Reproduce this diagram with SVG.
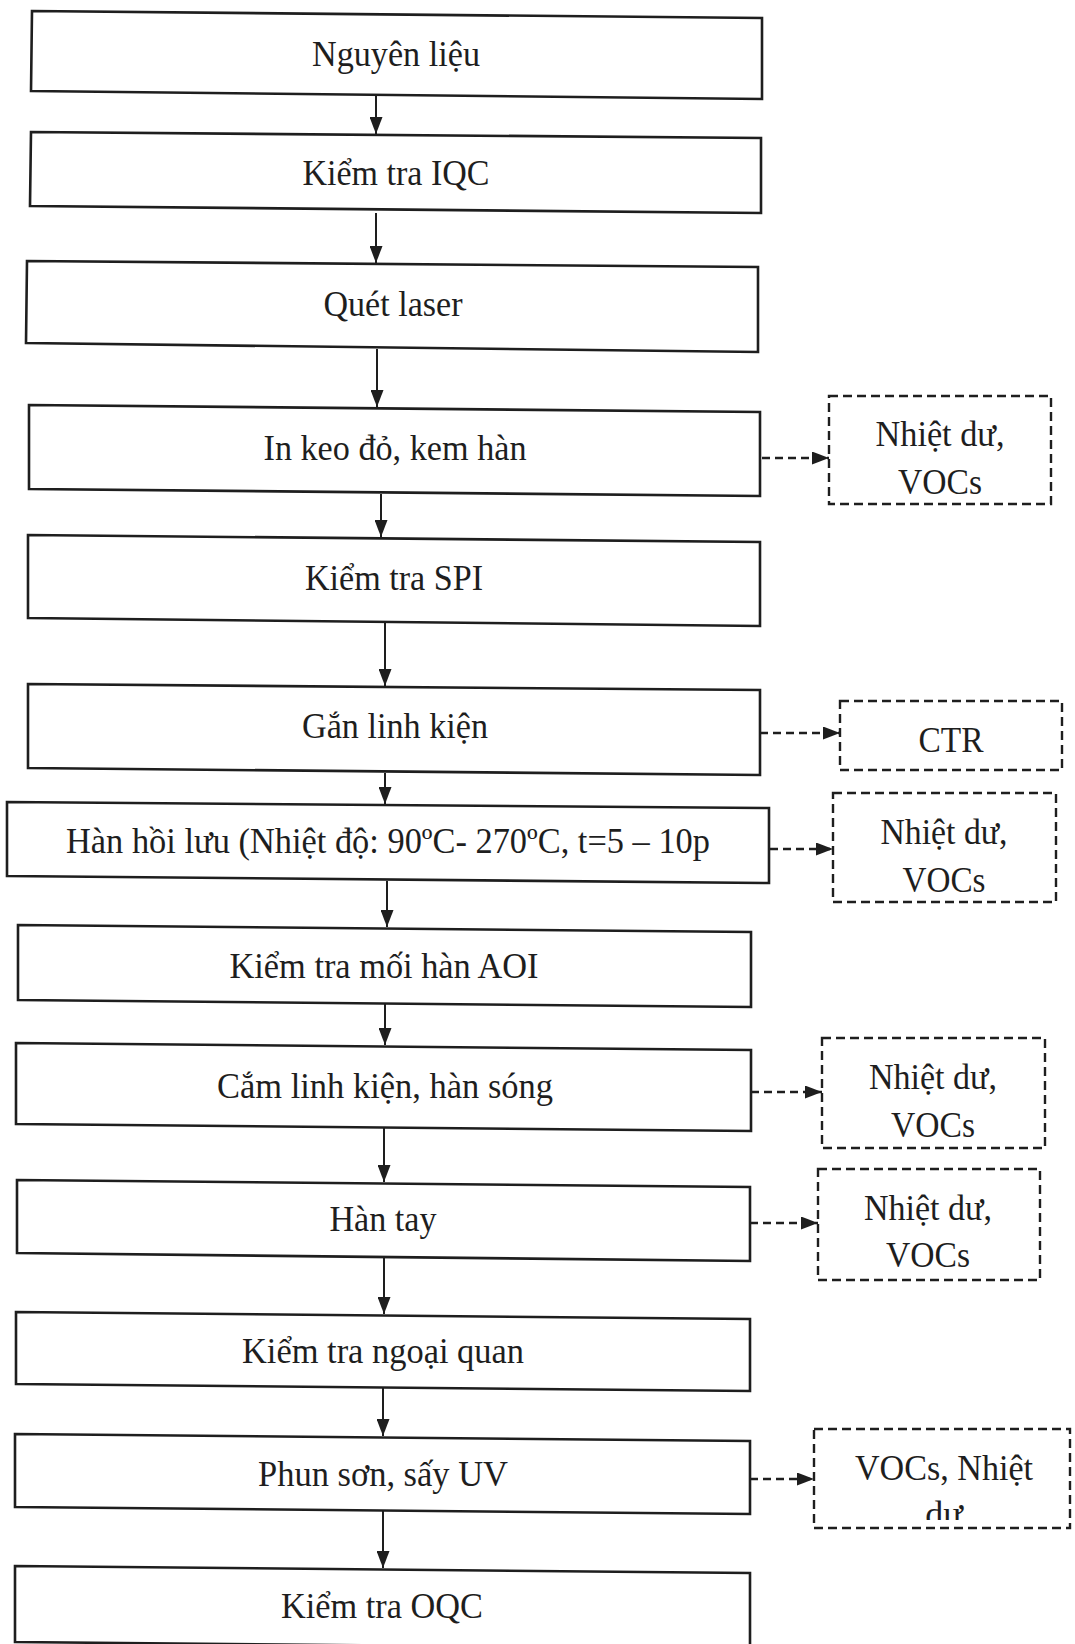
<svg xmlns="http://www.w3.org/2000/svg" width="1075" height="1644" viewBox="0 0 1075 1644">
<style>
.box{fill:#fff;stroke:#1e1e1e;stroke-width:2.6;stroke-linejoin:miter}
.dbox{fill:#fff;stroke:#1e1e1e;stroke-width:2.4;stroke-dasharray:9 5}
.t{font-family:"Liberation Serif","Times New Roman",serif;font-size:36px;fill:#1e1e1e;text-anchor:middle}
.flow{stroke:#1e1e1e;stroke-width:2;fill:none}
.dash{stroke:#1e1e1e;stroke-width:2.4;fill:none;stroke-dasharray:8 5}
</style>
<defs>
<marker id="ah" markerUnits="userSpaceOnUse" markerWidth="17" markerHeight="13" refX="17" refY="6.5" orient="auto">
<path d="M0,0 L17,6.5 L0,13 z" fill="#1e1e1e"/>
</marker>
<clipPath id="clip6"><rect x="814" y="1429" width="258" height="91"/></clipPath>
</defs>
<rect width="1075" height="1644" fill="#fff"/>

<g id="connectors">
<line class="flow" x1="376" y1="95" x2="376" y2="134" marker-end="url(#ah)"/>
<line class="flow" x1="376" y1="213" x2="376" y2="263" marker-end="url(#ah)"/>
<line class="flow" x1="377" y1="349" x2="377" y2="407" marker-end="url(#ah)"/>
<line class="flow" x1="381" y1="494" x2="381" y2="537" marker-end="url(#ah)"/>
<line class="flow" x1="385" y1="623" x2="385" y2="686" marker-end="url(#ah)"/>
<line class="flow" x1="385" y1="773" x2="385" y2="804" marker-end="url(#ah)"/>
<line class="flow" x1="387" y1="881" x2="387" y2="927" marker-end="url(#ah)"/>
<line class="flow" x1="385" y1="1004" x2="385" y2="1045" marker-end="url(#ah)"/>
<line class="flow" x1="384" y1="1128" x2="384" y2="1182" marker-end="url(#ah)"/>
<line class="flow" x1="384" y1="1258" x2="384" y2="1314" marker-end="url(#ah)"/>
<line class="flow" x1="383" y1="1388" x2="383" y2="1436" marker-end="url(#ah)"/>
<line class="flow" x1="383" y1="1511" x2="383" y2="1568" marker-end="url(#ah)"/>
<line class="dash" x1="762" y1="458" x2="829" y2="458" marker-end="url(#ah)"/>
<line class="dash" x1="760" y1="733" x2="840" y2="733" marker-end="url(#ah)"/>
<line class="dash" x1="770" y1="849" x2="833" y2="849" marker-end="url(#ah)"/>
<line class="dash" x1="751" y1="1092" x2="822" y2="1092" marker-end="url(#ah)"/>
<line class="dash" x1="750" y1="1223" x2="818" y2="1223" marker-end="url(#ah)"/>
<line class="dash" x1="750" y1="1479" x2="814" y2="1479" marker-end="url(#ah)"/>
</g>

<g id="n1"><path class="box" d="M32,11 L762,18 L762,99 L31,91 Z"/><text class="t" x="396" y="66" textLength="168" lengthAdjust="spacingAndGlyphs">Nguyên liệu</text></g>
<g id="n2"><path class="box" d="M31,132 L761,138 L761,213 L30,206 Z"/><text class="t" x="396" y="185" textLength="187" lengthAdjust="spacingAndGlyphs">Kiểm tra IQC</text></g>
<g id="n3"><path class="box" d="M27,261 L758,267 L758,352 L26,343 Z"/><text class="t" x="393" y="316" textLength="139" lengthAdjust="spacingAndGlyphs">Quét laser</text></g>
<g id="n4"><path class="box" d="M29,405 L760,412 L760,496 L29,489 Z"/><text class="t" x="395" y="460" textLength="263" lengthAdjust="spacingAndGlyphs">In keo đỏ, kem hàn</text></g>
<g id="n5"><path class="box" d="M28,535 L760,542 L760,626 L28,618 Z"/><text class="t" x="394" y="590" textLength="178" lengthAdjust="spacingAndGlyphs">Kiểm tra SPI</text></g>
<g id="n6"><path class="box" d="M28,684 L760,690 L760,775 L28,768 Z"/><text class="t" x="395" y="738" textLength="186" lengthAdjust="spacingAndGlyphs">Gắn linh kiện</text></g>
<g id="n7"><path class="box" d="M7,802 L769,808 L769,883 L7,876 Z"/><text class="t" x="388" y="853" textLength="644" lengthAdjust="spacingAndGlyphs">Hàn hồi lưu (Nhiệt độ: 90ºC- 270ºC, t=5 – 10p</text></g>
<g id="n8"><path class="box" d="M18,925 L751,932 L751,1007 L18,1000 Z"/><text class="t" x="384" y="978" textLength="309" lengthAdjust="spacingAndGlyphs">Kiểm tra mối hàn AOI</text></g>
<g id="n9"><path class="box" d="M16,1043 L751,1050 L751,1131 L16,1124 Z"/><text class="t" x="385" y="1098" textLength="336" lengthAdjust="spacingAndGlyphs">Cắm linh kiện, hàn sóng</text></g>
<g id="n10"><path class="box" d="M17,1180 L750,1187 L750,1261 L17,1253 Z"/><text class="t" x="383" y="1231" textLength="107" lengthAdjust="spacingAndGlyphs">Hàn tay</text></g>
<g id="n11"><path class="box" d="M16,1312 L750,1319 L750,1391 L16,1384 Z"/><text class="t" x="383" y="1363" textLength="282" lengthAdjust="spacingAndGlyphs">Kiểm tra ngoại quan</text></g>
<g id="n12"><path class="box" d="M15,1434 L750,1441 L750,1514 L15,1507 Z"/><text class="t" x="383" y="1486" textLength="250" lengthAdjust="spacingAndGlyphs">Phun sơn, sấy UV</text></g>
<g id="n13"><path class="box" d="M15,1566 L750,1573 L750,1649 L15,1642 Z"/><text class="t" x="382" y="1618" textLength="202" lengthAdjust="spacingAndGlyphs">Kiểm tra OQC</text></g>

<g id="r1"><rect class="dbox" x="829" y="396" width="222" height="108"/><text class="t" x="940" y="446" textLength="129" lengthAdjust="spacingAndGlyphs">Nhiệt dư,</text><text class="t" x="940" y="494" textLength="84" lengthAdjust="spacingAndGlyphs">VOCs</text></g>
<g id="r2"><rect class="dbox" x="840" y="701" width="222" height="69"/><text class="t" x="951" y="752" textLength="65" lengthAdjust="spacingAndGlyphs">CTR</text></g>
<g id="r3"><rect class="dbox" x="833" y="793" width="223" height="109"/><text class="t" x="944" y="844" textLength="127" lengthAdjust="spacingAndGlyphs">Nhiệt dư,</text><text class="t" x="944" y="892" textLength="83" lengthAdjust="spacingAndGlyphs">VOCs</text></g>
<g id="r4"><rect class="dbox" x="822" y="1038" width="223" height="110"/><text class="t" x="933" y="1089" textLength="128" lengthAdjust="spacingAndGlyphs">Nhiệt dư,</text><text class="t" x="933" y="1137" textLength="84" lengthAdjust="spacingAndGlyphs">VOCs</text></g>
<g id="r5"><rect class="dbox" x="818" y="1169" width="222" height="111"/><text class="t" x="928" y="1220" textLength="128" lengthAdjust="spacingAndGlyphs">Nhiệt dư,</text><text class="t" x="928" y="1267" textLength="84" lengthAdjust="spacingAndGlyphs">VOCs</text></g>
<g id="r6"><rect class="dbox" x="814" y="1429" width="256" height="99"/><text class="t" x="944" y="1480" textLength="178" lengthAdjust="spacingAndGlyphs">VOCs, Nhiệt</text><text class="t" x="944" y="1526" clip-path="url(#clip6)">dư</text></g>
</svg>
